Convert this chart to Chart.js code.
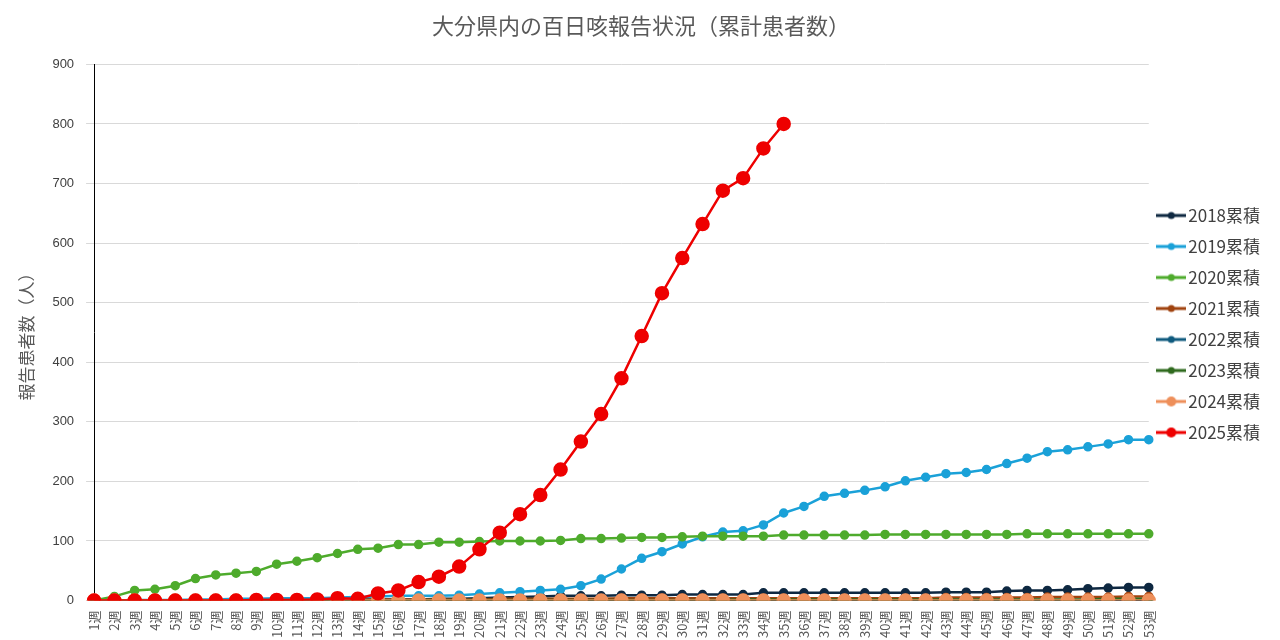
<!DOCTYPE html>
<html><head><meta charset="utf-8">
<script src="https://cdn.jsdelivr.net/npm/chart.js@4"></script>
<style>body{margin:0;background:#fff}#wrap{width:1280px;height:640px}</style>
</head><body><div id="wrap"><canvas id="c"></canvas></div>
<script>
const weeks = Array.from({length: 53}, (_, i) => (i + 1) + '週');
const y2018 = [0,0,0,0,0,0,0,0,0,1,1,1,1,2,2,2,2,3,3,4,5,6,7,8,8,8,9,9,9,10,10,10,10,13,13,13,13,13,13,13,13,13,14,14,14,16,17,17,18,20,21,22,22];
const y2019 = [0,0,1,1,1,2,2,3,3,4,4,4,5,6,7,8,8,8,9,11,13,15,17,19,25,36,53,71,82,95,107,115,117,127,147,158,175,180,185,191,201,207,213,215,220,230,239,250,253,258,263,270,270];
const y2020 = [0,7,17,19,25,37,43,46,49,61,66,72,79,86,88,94,94,98,98,99,100,100,100,101,104,104,105,106,106,107,108,108,108,108,110,110,110,110,110,111,111,111,111,111,111,111,112,112,112,112,112,112,112];
const y2021 = [0,0,0,0,0,0,0,0,1,1,1,1,1,1,2,2,2,2,2,2,3,3,3,3,3,3,4,4,4,4,4,4,4,4,4,4,4,4,4,4,4,4,5,5,5,5,5,6,6,6,6,7,7];
const y2022 = [0,0,0,0,0,0,0,0,0,0,0,0,0,0,0,0,0,0,0,0,0,0,0,0,0,0,0,0,0,0,0,0,0,0,0,0,0,0,0,0,0,0,0,0,0,0,0,0,0,0,0,1,1];
const y2023 = [0,0,0,0,0,0,0,0,0,0,0,0,0,0,0,0,1,1,1,1,1,1,1,1,1,1,1,1,1,1,1,1,2,2,2,2,2,2,2,2,2,2,2,2,2,2,2,2,2,2,3,3,3];
const y2024 = [0,0,0,0,0,0,0,0,0,0,0,0,0,0,0,0,0,0,0,0,0,0,0,0,0,0,0,0,0,0,0,0,0,0,0,0,0,0,0,0,0,0,0,0,0,0,0,0,0,0,0,0,0];
const y2025 = [0,0,0,0,0,0,0,0,1,1,1,2,4,3,12,17,31,40,57,86,114,145,177,220,267,313,373,444,516,575,632,688,709,759,800];
const yTicks = [0,100,200,300,400,500,600,700,800,900];

const series = [
  ['2018累積', y2018, '#0e2841', 3.5],
  ['2019累積', y2019, '#1aa1d8', 3.5],
  ['2020累積', y2020, '#4eab2c', 3.5],
  ['2021累積', y2021, '#a0430f', 3.5],
  ['2022累積', y2022, '#0f5a7e', 3.5],
  ['2023累積', y2023, '#2f6a1e', 3.5],
  ['2024累積', y2024, '#ee8f5a', 6],
  ['2025累積', y2025, '#ee0000', 6]
];

function legendIcon(color, r) {
  const cv = document.createElement('canvas');
  cv.width = 30; cv.height = 14;
  const g = cv.getContext('2d');
  g.strokeStyle = color; g.lineWidth = 3;
  g.beginPath(); g.moveTo(0, 7); g.lineTo(30, 7); g.stroke();
  g.fillStyle = color;
  g.beginPath(); g.arc(15, 7, r > 4 ? 5 : 3.5, 0, Math.PI * 2); g.fill();
  return cv;
}

new Chart(document.getElementById('c'), {
  type: 'line',
  data: {
    labels: weeks,
    datasets: series.map(([label, data, color, r], i) => ({
      label, data, borderColor: color, backgroundColor: color, order: series.length - i,
      pointRadius: r, pointHoverRadius: r, borderWidth: 2.5, tension: 0
    }))
  },
  options: {
    responsive: true, maintainAspectRatio: false, animation: false,
    layout: {padding: {left: 12, right: 10, top: 8, bottom: 0}},
    plugins: {
      title: {display: true, text: '大分県内の百日咳報告状況（累計患者数）', color: '#595959',
        font: {size: 22, weight: 'normal', family: 'Noto Sans CJK JP'}, padding: {top: 4, bottom: 26}},
      legend: {
        position: 'right',
        labels: {
          usePointStyle: true, color: '#404040', padding: 14,
          font: {size: 17, family: 'Noto Sans CJK JP'},
          generateLabels: chart => series.map(([label, , color, r], i) => ({
            text: label, pointStyle: legendIcon(color, r), datasetIndex: i,
            fillStyle: color, strokeStyle: color, lineWidth: 0, fontColor: '#404040'
          }))
        }
      },
      tooltip: {enabled: false}
    },
    scales: {
      x: {
        grid: {display: false},
        border: {color: '#000'},
        ticks: {color: '#595959', maxRotation: 90, minRotation: 90, autoSkip: false, padding: 2,
          font: {size: 13, family: 'Noto Sans CJK JP'}}
      },
      y: {
        min: 0, max: 900,
        afterBuildTicks: ax => { ax.ticks = yTicks.map(v => ({value: v})); },
        grid: {color: '#d9d9d9'},
        border: {color: '#000', display: true},
        ticks: {color: '#404040', padding: 12, font: {size: 13, family: 'Liberation Sans'}},
        title: {display: true, text: '報告患者数（人）', color: '#595959',
          font: {size: 17, family: 'Noto Sans CJK JP'}}
      }
    }
  }
});
</script></body></html>
